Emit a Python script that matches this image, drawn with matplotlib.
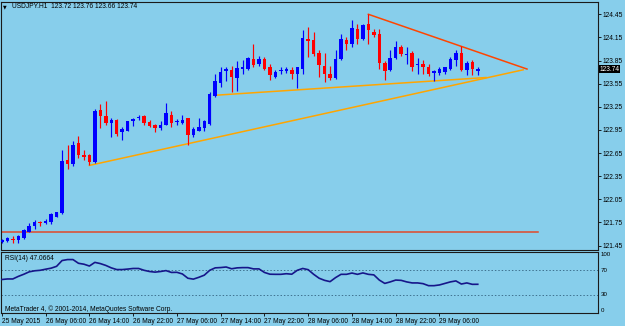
import matplotlib
matplotlib.use("Agg")
import matplotlib.pyplot as plt
import numpy as np
from matplotlib.transforms import blended_transform_factory

# ---------------- data ----------------
title_text = "USDJPY.H1  123.72 123.76 123.66 123.74"
rsi_title = "RSI(14) 47.0664"
copyright_text = "MetaTrader 4, \u00a9 2001-2014, MetaQuotes Software Corp."

opens = [121.50, 121.51, 121.54, 121.52, 121.55, 121.63, 121.70, 121.75, 121.74, 121.75,
         121.82, 121.87, 122.56, 122.51, 122.78, 122.62, 122.62, 122.53, 123.21, 123.13,
         123.04, 123.08, 122.92, 122.94, 123.06, 123.10, 123.13, 123.05, 123.01, 122.98,
         123.02, 123.15, 123.05, 123.04, 123.10, 122.88, 122.94, 122.98, 123.03, 123.39,
         123.56, 123.71, 123.73, 123.62, 123.74, 123.74, 123.87, 123.80, 123.87, 123.76,
         123.64, 123.71, 123.72, 123.73, 123.67, 123.74, 124.13, 124.12, 123.95, 123.78,
         123.68, 123.62, 123.87, 124.12, 124.07, 124.26, 124.13, 124.32, 124.22, 124.19,
         123.82, 123.73, 123.88, 124.03, 123.92, 123.95, 123.79, 123.80, 123.76, 123.69,
         123.69, 123.70, 123.74, 123.86, 123.95, 123.73, 123.83, 123.72]
highs = [121.53, 121.56, 121.57, 121.59, 121.66, 121.74, 121.78, 121.77, 121.80, 121.87,
         121.89, 122.69, 122.75, 122.81, 122.87, 122.69, 122.64, 123.22, 123.29, 123.32,
         123.10, 123.09, 122.99, 123.07, 123.10, 123.14, 123.14, 123.08, 123.03, 123.06,
         123.30, 123.20, 123.09, 123.15, 123.11, 122.99, 123.10, 123.08, 123.44, 123.68,
         123.77, 123.77, 123.78, 123.84, 123.86, 123.89, 124.07, 123.91, 123.89, 123.81,
         123.73, 123.76, 123.77, 123.76, 123.77, 124.25, 124.29, 124.22, 123.99, 123.95,
         123.78, 123.99, 124.19, 124.16, 124.38, 124.32, 124.33, 124.45, 124.26, 124.26,
         123.85, 123.99, 124.11, 124.05, 124.02, 123.97, 123.88, 123.86, 123.80, 123.73,
         123.76, 123.77, 123.90, 123.99, 124.04, 123.85, 123.86, 123.76]
lows = [121.49, 121.50, 121.49, 121.49, 121.53, 121.62, 121.66, 121.70, 121.73, 121.73,
        121.82, 121.86, 122.44, 122.48, 122.58, 122.56, 122.49, 122.52, 122.98, 123.01,
        122.86, 122.87, 122.82, 122.93, 123.00, 123.08, 123.01, 122.99, 122.92, 122.95,
        123.01, 122.99, 123.01, 123.03, 122.76, 122.86, 122.93, 122.93, 123.01, 123.38,
        123.51, 123.59, 123.44, 123.46, 123.67, 123.73, 123.76, 123.78, 123.73, 123.60,
        123.63, 123.68, 123.69, 123.61, 123.49, 123.67, 123.90, 123.91, 123.64, 123.57,
        123.60, 123.61, 123.86, 123.99, 124.03, 124.06, 124.12, 124.06, 124.16, 123.74,
        123.60, 123.71, 123.87, 123.91, 123.81, 123.72, 123.68, 123.67, 123.65, 123.59,
        123.66, 123.67, 123.73, 123.78, 123.71, 123.66, 123.66, 123.66]
closes = [121.52, 121.55, 121.52, 121.57, 121.65, 121.70, 121.76, 121.74, 121.77, 121.86,
          121.88, 122.55, 122.51, 122.76, 122.62, 122.60, 122.54, 123.20, 123.13, 123.04,
          123.08, 122.90, 122.96, 123.06, 123.09, 123.12, 123.04, 123.00, 122.98, 123.02,
          123.17, 123.04, 123.07, 123.08, 122.88, 122.96, 122.99, 123.06, 123.42, 123.58,
          123.70, 123.74, 123.64, 123.75, 123.77, 123.88, 123.79, 123.87, 123.74, 123.66,
          123.70, 123.73, 123.74, 123.68, 123.76, 124.14, 124.11, 123.93, 123.79, 123.68,
          123.62, 123.87, 124.13, 124.06, 124.27, 124.13, 124.31, 124.24, 124.18, 123.82,
          123.72, 123.88, 124.02, 123.94, 123.94, 123.77, 123.81, 123.77, 123.67, 123.72,
          123.74, 123.76, 123.87, 123.95, 123.73, 123.82, 123.74, 123.74]
rsi_values = [54.9, 55.8, 55.8, 60.0, 63.5, 67.5, 69.2, 70.0, 71.8, 73.5,
              76.5, 86.0, 87.6, 87.6, 81.5, 80.0, 77.0, 83.0, 81.0, 78.0,
              74.0, 71.2, 71.2, 72.0, 73.0, 73.0, 70.0, 68.0, 67.0, 68.0,
              69.5, 66.5, 66.7, 64.0, 57.0, 55.5, 58.5, 62.0, 70.0, 74.0,
              74.5, 75.4, 72.5, 74.0, 74.4, 74.4, 72.3, 72.3, 66.5, 63.6,
              63.4, 63.4, 64.4, 63.6, 70.0, 73.0, 71.0, 63.4, 57.0, 53.5,
              51.4, 58.0, 63.4, 63.4, 65.5, 63.4, 65.7, 63.4, 62.5, 54.0,
              48.5, 51.0, 54.0, 53.5, 51.0, 49.3, 49.3, 48.1, 44.8, 44.8,
              46.0, 48.5, 51.0, 52.6, 47.5, 49.3, 47.0, 47.07]

time_labels = ["25 May 2015", "26 May 06:00", "26 May 14:00", "26 May 22:00",
               "27 May 06:00", "27 May 14:00", "27 May 22:00", "28 May 06:00",
               "28 May 14:00", "28 May 22:00", "29 May 06:00"]
time_label_bars = [0, 8, 16, 24, 32, 40, 48, 56, 64, 72, 80]

price_ticks = [121.45, 121.75, 122.05, 122.35, 122.65, 122.95, 123.25, 123.55, 123.85, 124.15, 124.45]
rsi_ticks = [0, 30, 70, 100]
rsi_levels = [30, 70]
last_price = 123.74

hline_price = 121.62
hline_end_bar = 98
steep_line_bars = [16, 95.3]
steep_line_prices = [122.49, 123.73]
flat_line_bars = [39, 88.5]
flat_line_prices = [123.40, 123.63]
red_line_bars = [67, 96]
red_line_prices = [124.45, 123.74]

# ---------------- style ----------------
BG = "#87CEEB"
FONT = "Liberation Sans"
FS = 4.8
plt.rcParams["font.family"] = [FONT, "DejaVu Sans"]

W, H = 625, 326
fig = plt.figure(figsize=(W / 100, H / 100), dpi=100, facecolor=BG)

def frac(x0, y0, x1, y1):
    return [x0 / W, 1 - y1 / H, (x1 - x0) / W, (y1 - y0) / H]

ax = fig.add_axes(frac(1, 1.5, 598, 250), facecolor=BG)
axr = fig.add_axes(frac(1, 252, 598, 313), facecolor=BG, sharex=ax)

x = np.arange(len(opens))
o = np.array(opens); c = np.array(closes)
hi = np.array(highs); lo = np.array(lows)
up = c >= o
cols = np.where(up, "#0000FF", "#FF0000")

ax.vlines(x, lo, hi, colors=cols, lw=0.85, zorder=3)
body_bot = np.minimum(o, c)
body_h = np.maximum(np.abs(c - o), 0.013)
ax.bar(x, body_h, bottom=body_bot, width=0.64, color=cols, linewidth=0, zorder=4)

# drawn objects
ax.plot([-0.2, hline_end_bar], [hline_price, hline_price], color="#E04A2A", lw=1.1, zorder=2)
ax.plot(steep_line_bars, steep_line_prices, color="#FFA500", lw=1.1, zorder=2)
ax.plot(flat_line_bars, flat_line_prices, color="#FFA500", lw=1.1, zorder=2)
ax.plot(red_line_bars, red_line_prices, color="#FF4500", lw=1.1, zorder=2)

ax.set_xlim(-0.16, 108.98)
ax.set_ylim(121.393, 124.616)

for a in (ax, axr):
    for s in a.spines.values():
        s.set_color("#1a1a1a")
        s.set_linewidth(0.8)

ax.yaxis.tick_right()
ax.set_yticks(price_ticks)
ax.set_yticklabels([f"{p:.2f}" for p in price_ticks], fontsize=FS, color="black")
ax.tick_params(axis="y", length=2.2, width=0.6, pad=1.2, color="black")
ax.tick_params(axis="x", bottom=False, labelbottom=False)

# current price box
tr = blended_transform_factory(ax.transAxes, ax.transData)
ax.text(1.0025, last_price, f"{last_price:.2f}", transform=tr, fontsize=FS, color="white",
        va="center", ha="left",
        bbox=dict(boxstyle="square,pad=0.12", fc="black", ec="black", lw=0))

# title
fig.text(3.0 / W, 1 - 6.8 / H, "\u25BC", fontsize=3.4, color="black", va="center", ha="left",
         family="DejaVu Sans")
fig.text(12.5 / W, 1 - 6.8 / H, title_text, fontsize=FS, color="black", va="center", ha="left")

# RSI panel
axr.plot(x, rsi_values, color="#16168A", lw=1.2, zorder=3)
for lvl in rsi_levels:
    axr.axhline(lvl, color="#3F7290", lw=0.7, ls=(0, (1.5, 2.0)), zorder=1)
axr.set_ylim(0, 100)
axr.yaxis.tick_right()
axr.set_yticks(rsi_ticks)
axr.set_yticklabels([str(v) for v in rsi_ticks], fontsize=FS * 0.92, color="black")
axr.tick_params(axis="y", length=0, pad=2.0)
for lab, v in zip(axr.get_yticklabels(), rsi_ticks):
    if v == 100:
        lab.set_va("top")
    elif v == 0:
        lab.set_va("bottom")
    else:
        lab.set_va("center")

axr.set_xticks(time_label_bars)
axr.set_xticklabels(time_labels, fontsize=FS, color="black")
for lab in axr.get_xticklabels():
    lab.set_ha("left")
axr.tick_params(axis="x", length=2.2, width=0.6, pad=1.6, color="black")

axr.text(4.0 / 597, 1 - 6.2 / 61, rsi_title, transform=axr.transAxes, fontsize=FS,
         color="black", va="center", ha="left")
axr.text(4.0 / 597, 4.0 / 61, copyright_text, transform=axr.transAxes, fontsize=FS,
         color="black", va="center", ha="left")

fig.savefig("out.png", dpi=100, facecolor=BG)
